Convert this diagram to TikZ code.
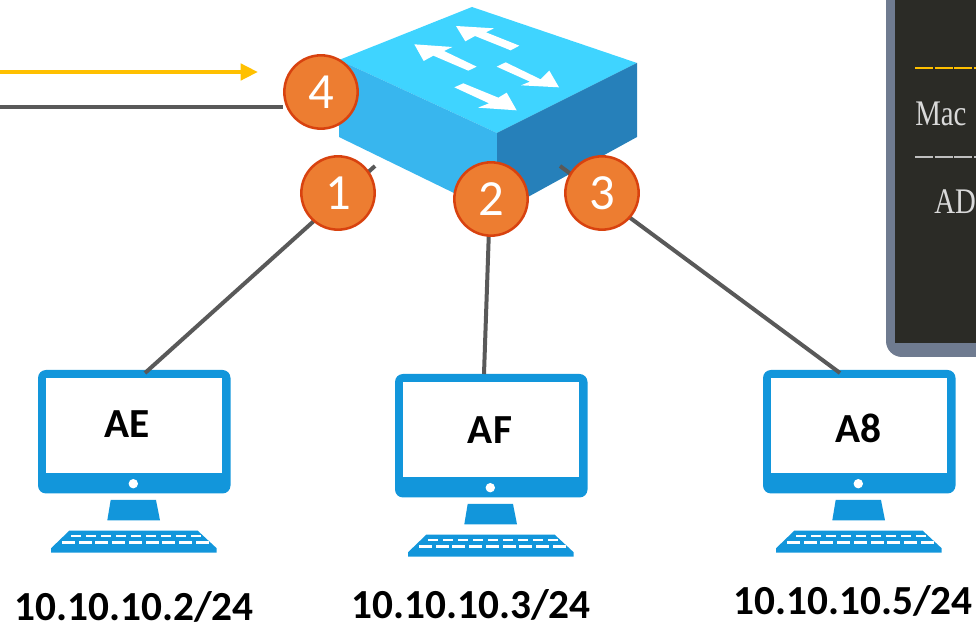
\documentclass[tikz,border=0pt]{standalone}
\usepackage{fontspec}
\setmainfont{Carlito}
\newfontfamily\termfont[FakeStretch=0.8]{Liberation Serif}
\usetikzlibrary{arrows.meta}
\definecolor{swtop}{HTML}{3FD4FF}
\definecolor{swleft}{HTML}{38B6EE}
\definecolor{swright}{HTML}{2680BA}
\definecolor{pcblue}{HTML}{1296DB}
\definecolor{linkgray}{HTML}{595959}
\definecolor{badgefill}{HTML}{ED7D31}
\definecolor{badgeline}{HTML}{D8420F}
\definecolor{termbg}{HTML}{2B2B26}
\definecolor{termframe}{HTML}{6F7B90}
\definecolor{signal}{HTML}{FFC000}
\tikzset{
  link/.style={draw=linkgray, line width=3pt},
  badge/.style={circle, draw=badgeline, fill=badgefill, line width=1.9pt, minimum size=55pt,
    inner sep=0pt, text=white, font=\fontsize{38}{38}\selectfont},
  pclabel/.style={font=\fontsize{31}{31}\selectfont\bfseries},
  iplabel/.style={inner sep=0pt, anchor=base, font=\fontsize{31}{31}\selectfont\bfseries},
  termtext/.style={text=white!85!black, font=\fontsize{27}{27}\selectfont\termfont, anchor=base west, inner sep=0pt},
  pcicon/.pic={
    \fill[pcblue, rounded corners=6pt] (38,370) rectangle (230.5,493.5);
    \fill[white] (45.7,378) rectangle (222,472.7);
    \fill[white] (133.3,483.7) circle (4.7);
    \fill[pcblue] (110.7,500) -- (156,500) -- (160,520.3) -- (107.3,520.3) -- cycle;
    \fill[pcblue] (69.3,530.7) -- (197.7,530.7) -- (216.7,548.3) -- (216.7,552.7) -- (51,552.7) -- (51,548.3) -- cycle;
    \foreach \k in {0,...,8} {
      \fill[white] (70.5+15*\k,535) rectangle (80.5+15*\k,537.2);
      \fill[white] (62+16.7*\k,541.3) rectangle (75+16.7*\k,544);
    }
  }
}
\begin{document}
\begin{tikzpicture}[x=0.75pt,y=-0.75pt]
  \clip (0,0) rectangle (976,630);

  \fill[termframe, rounded corners=12pt] (886,-30) rectangle (1010,357);
  \fill[termbg] (895,-30) rectangle (1010,343);
  \draw[draw=signal, line width=1.9pt, dash pattern=on 13.5pt off 1.2pt] (915,68) -- (976,68);
  \draw[draw=white!75!black, line width=1.5pt, dash pattern=on 13.5pt off 1.2pt] (915,157) -- (976,157);
  \node[termtext] (macHead) at (915,126) {Mac};
  \node[termtext] (macRow) at (934,214) {AD};

  \fill[swtop] (472,7) -- (637,63) -- (497,133) -- (339,60) -- cycle;
  \fill[swleft] (339,60) -- (497,133) -- (497,214) -- (339,137) -- cycle;
  \fill[swright] (637,63) -- (637,137) -- (497,214) -- (497,133) -- cycle;
  \begin{scope}[xshift=210pt, x=0.25pt, y=-0.25pt]
    \fill[white] (528,78) -- (642,85) -- (618,97) -- (718,137) -- (692,151) -- (585,108) -- (556,124) -- cycle;
    \fill[white] (403,133) -- (517,141) -- (492,153) -- (590,200) -- (565,212) -- (460,167) -- (431,183) -- cycle;
    \fill[white] (837,262) -- (808,212) -- (782,238) -- (677,187) -- (650,200) -- (750,245) -- (723,256) -- cycle;
    \fill[white] (710,331) -- (680,278) -- (655,293) -- (550,250) -- (523,262) -- (627,310) -- (594,323) -- cycle;
  \end{scope}

  \pic (pcAE) at (0,0) {pcicon};
  \pic (pcAF) at (357,4) {pcicon};
  \pic (pcA) at (725,0) {pcicon};

  \node[pclabel] (labelAE) at (127,424) {AE};
  \node[pclabel] (labelAF) at (490,430) {AF};
  \node[pclabel] (labelA) at (858,428) {A8};
  \node[iplabel] (ipAE) at (134,621) {10.10.10.2/24};
  \node[iplabel] (ipAF) at (471,619) {10.10.10.3/24};
  \node[iplabel] (ipA) at (853,615) {10.10.10.5/24};

  \coordinate (portAE) at (375,166);
  \coordinate (portAF) at (490,200);
  \coordinate (portA) at (560,166);
  \coordinate (topAE) at (145,373);
  \coordinate (topAF) at (484,374);
  \coordinate (topA) at (840,373);
  \coordinate (wireIn) at (0,107);
  \coordinate (wireSig) at (0,72);
  \coordinate (wireTip) at (258,72);
  \draw[link] (topAE) -- (portAE);
  \draw[link] (topAF) -- (portAF);
  \draw[link] (topA) -- (portA);

  \node[badge] (badge1) at (338,193) {1};
  \node[badge] (badge2) at (491,199) {2};
  \node[badge] (badge3) at (602,193) {3};
  \node[badge] (badge4) at (321,92) {4};

  \draw[link] (wireIn) -- (wireIn -| badge4.west);
  \draw[draw=signal, line width=3.6pt, -{Triangle[length=13pt,width=12pt]}] (wireSig) -- (wireTip);
\end{tikzpicture}
\end{document}
